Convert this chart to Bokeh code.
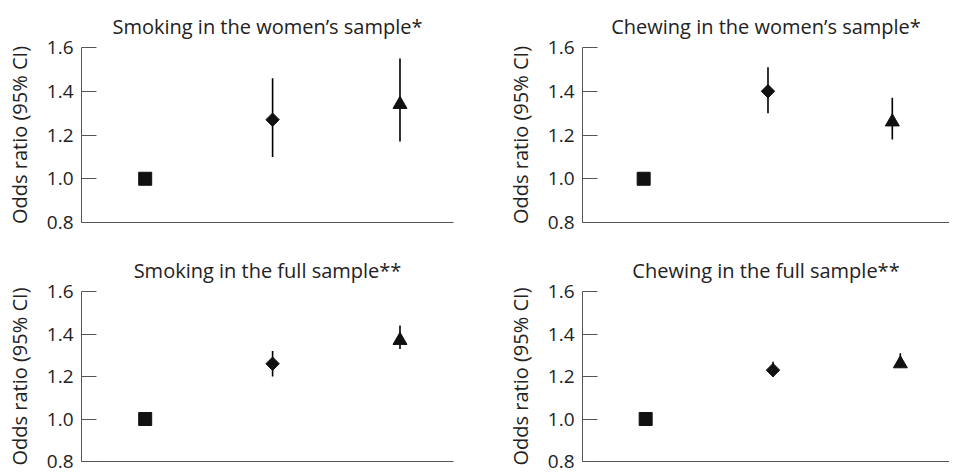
import math
from bokeh.plotting import figure
from bokeh.layouts import column, row
from bokeh.models import Range1d, FixedTicker, PrintfTickFormatter
from bokeh.embed import file_html
from bokeh.resources import INLINE

# ---- data ----
groups = [1, 2, 3]  # reference (square), group 2 (diamond), group 3 (triangle)
y_ticks = [0.8, 1.0, 1.2, 1.4, 1.6]
titles = [
    "Smoking in the women\u2019s sample*",
    "Chewing in the women\u2019s sample*",
    "Smoking in the full sample**",
    "Chewing in the full sample**",
]
or_smoke_women = [1.00, 1.27, 1.34]
lo_smoke_women = [1.00, 1.10, 1.17]
hi_smoke_women = [1.00, 1.46, 1.55]

or_chew_women = [1.00, 1.40, 1.26]
lo_chew_women = [1.00, 1.30, 1.18]
hi_chew_women = [1.00, 1.51, 1.37]

or_smoke_full = [1.00, 1.26, 1.37]
lo_smoke_full = [1.00, 1.20, 1.33]
hi_smoke_full = [1.00, 1.32, 1.44]

or_chew_full = [1.00, 1.23, 1.26]
lo_chew_full = [1.00, 1.20, 1.24]
hi_chew_full = [1.00, 1.27, 1.31]

FONT = "Open Sans"
TXT = "#222222"
AX = "#555555"


def panel(title, ors, los, his, width, height, mb, xr):
    p = figure(width=width, height=height, output_backend="svg", toolbar_location=None,
               x_range=Range1d(*xr), y_range=Range1d(0.8, 1.6),
               min_border_left=mb[0], min_border_right=mb[1],
               min_border_top=mb[2], min_border_bottom=mb[3])
    p.title.text = title
    p.title.align = "center"
    p.title.text_font = FONT
    p.title.text_font_size = "20px"
    p.title.text_font_style = "normal"
    p.title.text_color = TXT
    p.title.standoff = 15
    p.outline_line_color = None
    p.grid.visible = False
    p.background_fill_color = "white"

    p.yaxis.ticker = FixedTicker(ticks=y_ticks)
    p.yaxis.formatter = PrintfTickFormatter(format="%.1f")
    p.yaxis.major_tick_in = 15
    p.yaxis.major_tick_out = 0
    p.yaxis.minor_tick_line_color = None
    p.yaxis.axis_line_color = AX
    p.yaxis.major_tick_line_color = AX
    p.yaxis.major_label_text_font = FONT
    p.yaxis.major_label_text_font_size = "19px"
    p.yaxis.major_label_text_color = TXT
    p.yaxis.major_label_standoff = 8
    p.yaxis.axis_label = "Odds ratio (95% CI)"
    p.yaxis.axis_label_text_font = FONT
    p.yaxis.axis_label_text_font_size = "20px"
    p.yaxis.axis_label_text_font_style = "normal"
    p.yaxis.axis_label_text_color = TXT
    p.yaxis.axis_label_standoff = 11

    p.xaxis.ticker = FixedTicker(ticks=[])
    p.xaxis.major_tick_line_color = None
    p.xaxis.minor_tick_line_color = None
    p.xaxis.major_tick_in = 0
    p.xaxis.major_tick_out = 0
    p.xaxis.minor_tick_out = 0
    p.xaxis.major_label_standoff = 0
    p.xaxis.axis_line_color = AX
    p.xaxis.major_label_text_font_size = "0px"

    # confidence intervals for groups 2 and 3
    p.segment(x0=groups[1:], y0=los[1:], x1=groups[1:], y1=his[1:],
              line_color="black", line_width=1.6)
    p.scatter(x=[groups[0]], y=[ors[0]], marker="square", size=13,
              fill_color="#111111", line_color="#111111")
    p.scatter(x=[groups[1]], y=[ors[1]], marker="square", size=9.5, angle=math.pi / 4,
              fill_color="#111111", line_color="#111111")
    p.scatter(x=[groups[2]], y=[ors[2]], marker="triangle", size=14,
              fill_color="#111111", line_color="#111111")
    return p


p1 = panel(titles[0], or_smoke_women, lo_smoke_women, hi_smoke_women,
           478, 238, (81, 25, 47, 16), (0.5, 3.42))
p2 = panel(titles[1], or_chew_women, lo_chew_women, hi_chew_women,
           471, 238, (104, 0, 47, 16), (0.508, 3.46))
p3 = panel(titles[2], or_smoke_full, lo_smoke_full, hi_smoke_full,
           478, 235, (81, 25, 53, 12), (0.5, 3.42))
p4 = panel(titles[3], or_chew_full, lo_chew_full, hi_chew_full,
           471, 235, (104, 0, 53, 12), (0.504, 3.386))

layout = column(row(p1, p2), row(p3, p4))
open("out.html", "w").write(file_html(layout, INLINE))
